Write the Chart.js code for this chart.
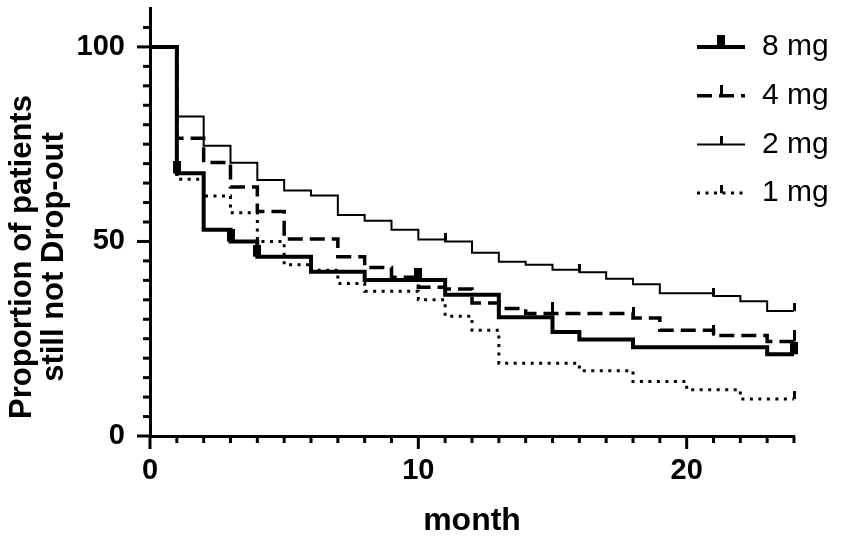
<!DOCTYPE html>
<html><head><meta charset="utf-8">
<script src="https://cdn.jsdelivr.net/npm/chart.js@4.4.1/dist/chart.umd.min.js"></script>
<style>html,body{margin:0;padding:0;background:#fff;}#wrap{width:850px;height:551px;position:relative;}</style>
</head><body><div id="wrap"><canvas id="c"></canvas></div>
<script>
// ---- data ----
const seriesNames = ['8 mg', '4 mg', '2 mg', '1 mg'];
const xTickLabels = [0, 10, 20];
const yTickLabels = [0, 50, 100];
const xAxisTitle = 'month';
const yAxisTitle = ['Proportion of patients', 'still not Drop-out'];

const months8 = [0, 1, 2, 3, 4, 6, 8, 11, 13, 15, 16, 18, 23, 24];
const surv8   = [100, 67.5, 53.0, 50.0, 46.1, 42.2, 40.1, 36.3, 30.5, 26.7, 24.8, 22.8, 21.0, 21.0];
const months4 = [0, 1, 2, 3, 4, 5, 7, 8, 9, 10, 11, 12, 13, 14, 18, 19, 21, 23, 24];
const surv4   = [100, 76.5, 70.3, 64.0, 57.7, 50.6, 46.1, 43.3, 40.8, 38.2, 37.8, 34.2, 32.8, 31.5, 30.3, 27.2, 25.8, 24.3, 24.3];
const months2 = [0, 1, 2, 3, 4, 5, 6, 7, 8, 9, 10, 11, 12, 13, 14, 15, 16, 17, 18, 19, 21, 22, 23, 24];
const surv2   = [100, 82.1, 74.6, 70.2, 65.8, 63.1, 61.8, 56.8, 55.3, 53.0, 50.5, 50.0, 47.1, 44.8, 44.0, 42.7, 42.1, 40.4, 39.0, 36.7, 36.0, 34.6, 32.1, 32.1];
const months1 = [0, 1, 2, 3, 4, 5, 6, 7, 8, 10, 11, 12, 13, 16, 18, 20, 22, 24];
const surv1   = [100, 66.0, 61.7, 57.4, 50.0, 44.0, 42.6, 39.2, 37.2, 35.0, 30.8, 27.2, 18.7, 16.8, 14.0, 11.9, 9.5, 9.5];

const censorX8 = [1, 3, 4, 10, 24];   const censorY8 = [67.5, 50.0, 46.1, 40.1, 21.0];
const censorX4 = [15, 18, 21, 24];    const censorY4 = [31.5, 30.3, 25.8, 24.3];
const censorX2 = [11, 16, 21, 24];    const censorY2 = [50.0, 42.1, 36.0, 32.1];
const censorX1 = [24];                const censorY1 = [9.5];

// ---- helpers ----
const pts = (xs, ys) => xs.map((x, i) => ({x: x, y: ys[i]}));
function mark(w, h) {
  const c = document.createElement('canvas');
  c.width = w; c.height = 2 * h;
  const g = c.getContext('2d');
  g.fillStyle = '#000';
  g.fillRect(0, 0, w, h);
  return c;
}
const styles = [
  {width: 4, dash: [], mark: mark(8, 12)},
  {width: 3.5, dash: [15, 7], mark: mark(3, 11)},
  {width: 2, dash: [], mark: mark(3, 8)},
  {width: 3, dash: [3, 5.5], mark: mark(3, 8)}
];
const curveData = [pts(months8, surv8), pts(months4, surv4), pts(months2, surv2), pts(months1, surv1)];
const censorData = [pts(censorX8, censorY8), pts(censorX4, censorY4), pts(censorX2, censorY2), pts(censorX1, censorY1)];

const FONT = "'Liberation Sans', Arial, sans-serif";
Chart.defaults.font.family = FONT;
Chart.defaults.color = '#000';

const datasets = [];
seriesNames.forEach((n, i) => {
  datasets.push({
    label: n, data: curveData[i], showLine: true, stepped: true,
    borderColor: '#000', borderWidth: styles[i].width, borderDash: styles[i].dash,
    borderCapStyle: 'butt', pointRadius: 0, fill: false, order: 0
  });
});
seriesNames.forEach((n, i) => {
  datasets.push({
    label: n + ' censored', data: censorData[i], showLine: false,
    pointStyle: styles[i].mark, pointRadius: 5, order: -1, clip: false
  });
});

const tickPlugin = {
  id: 'tickMarks',
  afterDraw(chart) {
    const ctx = chart.ctx, xs = chart.scales.x, ys = chart.scales.y;
    const area = chart.chartArea;
    ctx.save();
    ctx.strokeStyle = '#000';
    ctx.lineWidth = 3;
    ctx.lineCap = 'butt';
    xs.ticks.forEach(t => {
      const px = xs.getPixelForValue(t.value);
      const len = xTickLabels.includes(t.value) ? 13 : 7;
      ctx.beginPath(); ctx.moveTo(px, area.bottom); ctx.lineTo(px, area.bottom + len); ctx.stroke();
    });
    ys.ticks.forEach(t => {
      if (t.value > 105) return;
      const py = ys.getPixelForValue(t.value);
      const len = yTickLabels.includes(t.value) ? 13 : 7;
      ctx.beginPath(); ctx.moveTo(area.left, py); ctx.lineTo(area.left - len, py); ctx.stroke();
    });
    // y-axis title
    ctx.fillStyle = '#000';
    ctx.font = 'bold 31px ' + FONT;
    ctx.textAlign = 'center';
    ctx.textBaseline = 'middle';
    ctx.translate(0, 257);
    ctx.rotate(-Math.PI / 2);
    ctx.fillText(yAxisTitle[0], 0, 22);
    ctx.fillText(yAxisTitle[1], 0, 54);
    ctx.restore();
  }
};

const legendPlugin = {
  id: 'kmLegend',
  afterDraw(chart) {
    const ctx = chart.ctx;
    const x0 = 697, x1 = 745, tx = 762, y0 = 47, dy = 48.7;
    ctx.save();
    seriesNames.forEach((n, i) => {
      const y = y0 + i * dy;
      const st = styles[i];
      ctx.strokeStyle = '#000';
      ctx.lineWidth = st.width;
      ctx.setLineDash(st.dash);
      ctx.beginPath(); ctx.moveTo(x0, y); ctx.lineTo(x1, y); ctx.stroke();
      ctx.setLineDash([]);
      const m = st.mark;
      ctx.drawImage(m, (x0 + x1) / 2 - m.width / 2, y - m.height / 2);
      ctx.fillStyle = '#000';
      ctx.font = '30px ' + FONT;
      ctx.textAlign = 'left';
      ctx.textBaseline = 'middle';
      ctx.fillText(n, tx, y);
    });
    ctx.restore();
  }
};

new Chart(document.getElementById('c'), {
  type: 'scatter',
  data: {datasets: datasets},
  options: {
    responsive: true, maintainAspectRatio: false, animation: false, events: [],
    layout: {padding: {left: 0, right: 56, top: 8, bottom: 0}},
    plugins: {legend: {display: false}, tooltip: {enabled: false}, title: {display: false}},
    scales: {
      x: {
        type: 'linear', min: 0, max: 24,
        border: {display: true, color: '#000', width: 3},
        grid: {display: false, drawTicks: false},
        ticks: {
          stepSize: 1, autoSkip: false, maxRotation: 0, padding: 18,
          font: {size: 29, weight: 'bold'},
          callback: v => xTickLabels.includes(v) ? String(v) : ''
        },
        title: {display: true, text: xAxisTitle, font: {size: 32, weight: 'bold'}, padding: {top: 0, bottom: 11}},
        afterFit: s => { s.height = 115; s.paddingLeft = 0; s.paddingRight = 0; }
      },
      y: {
        type: 'linear', min: 0, max: 110,
        border: {display: true, color: '#000', width: 3},
        grid: {display: false, drawTicks: false},
        ticks: {
          stepSize: 5, autoSkip: false, padding: 25,
          font: {size: 29, weight: 'bold'},
          callback: v => yTickLabels.includes(v) ? String(v) : ''
        },
        afterFit: s => { s.width = 150; s.paddingTop = 0; s.paddingBottom = 0; }
      }
    }
  },
  plugins: [tickPlugin, legendPlugin]
});
</script></body></html>
